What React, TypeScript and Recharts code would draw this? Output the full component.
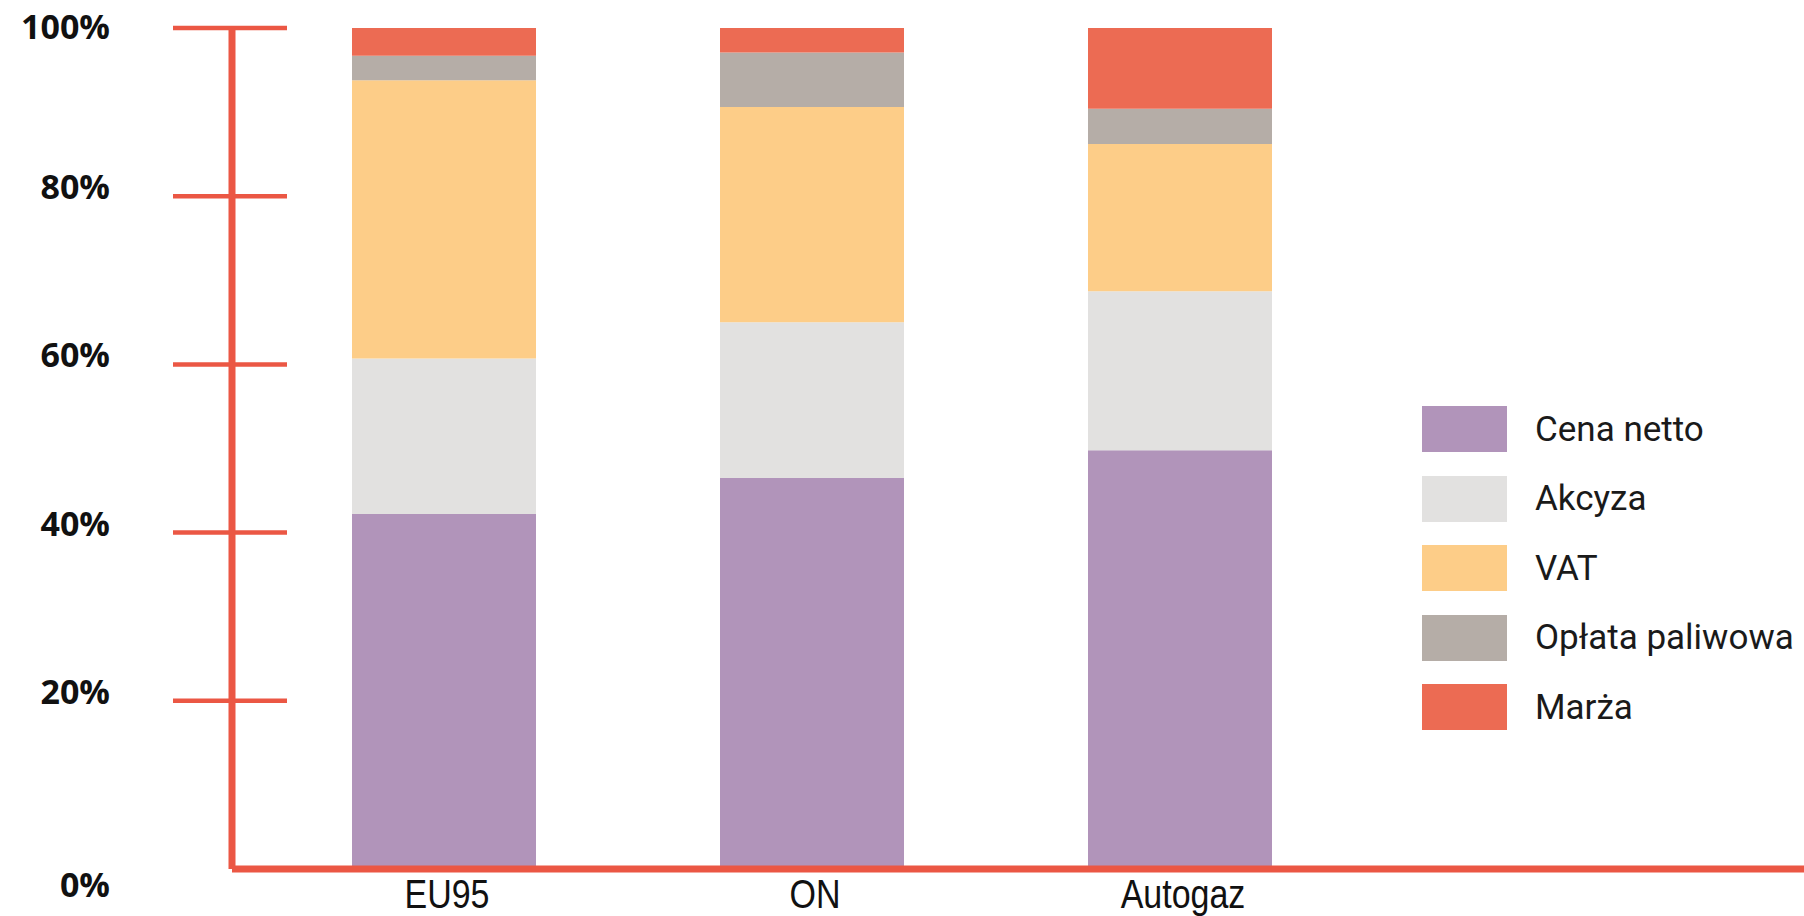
import React from "react";
import { BarChart, Bar, XAxis, YAxis, Legend } from "recharts";

// shares of the fuel price, in %
const categories = ["EU95", "ON", "Autogaz"];
const cenaNetto = [42.2, 46.5, 49.8];
const akcyza = [18.5, 18.5, 18.9];
const vat = [33.1, 25.6, 17.5];
const oplataPaliwowa = [2.9, 6.5, 4.2];
const marza = [3.3, 2.9, 9.6];
const yTicks = [0, 20, 40, 60, 80, 100];

const AXIS_RED = "#EB5744";

const SERIES = [
  { key: "cena", name: "Cena netto", values: cenaNetto, color: "#B194BA" },
  { key: "akcyza", name: "Akcyza", values: akcyza, color: "#E2E1E0" },
  { key: "vat", name: "VAT", values: vat, color: "#FDCD88" },
  { key: "oplata", name: "Opłata paliwowa", values: oplataPaliwowa, color: "#B5ADA7" },
  { key: "marza", name: "Marża", values: marza, color: "#EC6B53" },
];

const data = categories.map((name, i) => {
  const row: Record<string, any> = { name };
  SERIES.forEach((s) => (row[s.key] = s.values[i]));
  return row;
});

function YTick(props: any) {
  const { x, y, payload } = props;
  const v = payload.value as number;
  // labels sit a little above their tick line, 0% sits below the axis
  const dy = v === 0 ? 15 : v === 100 ? -2 : -10;
  return (
    <g>
      {v > 0 && (
        <line x1={x - 59} x2={x + 55} y1={y} y2={y} stroke={AXIS_RED} strokeWidth={4.5} />
      )}
      <text
        x={110}
        y={y}
        dy={dy}
        textAnchor="end"
        dominantBaseline="central"
        fontFamily="'Open Sans', sans-serif"
        fontWeight={700}
        fontSize={34}
        fill="#111"
      >
        {v}%
      </text>
    </g>
  );
}

// narrow-looking category labels: regular sans squeezed horizontally
function XTick(props: any) {
  const { x, y, payload } = props;
  return (
    <text
      transform={`translate(${x + 3},${y + 39}) scale(0.85,1)`}
      x={0}
      y={0}
      textAnchor="middle"
      fontFamily="'Liberation Sans', Arial, sans-serif"
      fontSize={40}
      fill="#111"
    >
      {payload.value}
    </text>
  );
}

function LegendBox() {
  return (
    <div style={{ fontFamily: "Roboto, sans-serif", fontSize: 35, color: "#1a1a1a" }}>
      {SERIES.map((s) => (
        <div key={s.key} style={{ display: "flex", alignItems: "center", height: 46, marginBottom: 23.5, whiteSpace: "nowrap" }}>
          <div style={{ width: 85, height: 46, background: s.color, marginRight: 28 }} />
          <span>{s.name}</span>
        </div>
      ))}
    </div>
  );
}

export default function App() {
  return (
    <div style={{ position: "absolute", left: 0, top: 0, width: 1804, height: 916, background: "#fff" }}>
      <BarChart width={1804} height={916} data={data} margin={{ top: 28, right: 0, bottom: 0, left: 0 }}>
        {SERIES.map((s) => (
          <Bar key={s.key} dataKey={s.key} name={s.name} stackId="a" fill={s.color} barSize={184} isAnimationActive={false} />
        ))}
        <XAxis
          dataKey="name"
          padding={{ left: 28, right: 440 }}
          height={47}
          axisLine={{ stroke: AXIS_RED, strokeWidth: 7 }}
          tickLine={false}
          tickSize={0}
          tickMargin={0}
          interval={0}
          tick={<XTick />}
        />
        <YAxis
          width={232}
          domain={[0, 100]}
          ticks={yTicks}
          interval={0}
          axisLine={{ stroke: AXIS_RED, strokeWidth: 7 }}
          tickLine={false}
          tickSize={0}
          tickMargin={0}
          tick={<YTick />}
        />
        <Legend
          layout="vertical"
          align="center"
          verticalAlign="middle"
          content={() => <LegendBox />}
          wrapperStyle={{ left: 1422, top: 406, width: 382 }}
        />
      </BarChart>
    </div>
  );
}
